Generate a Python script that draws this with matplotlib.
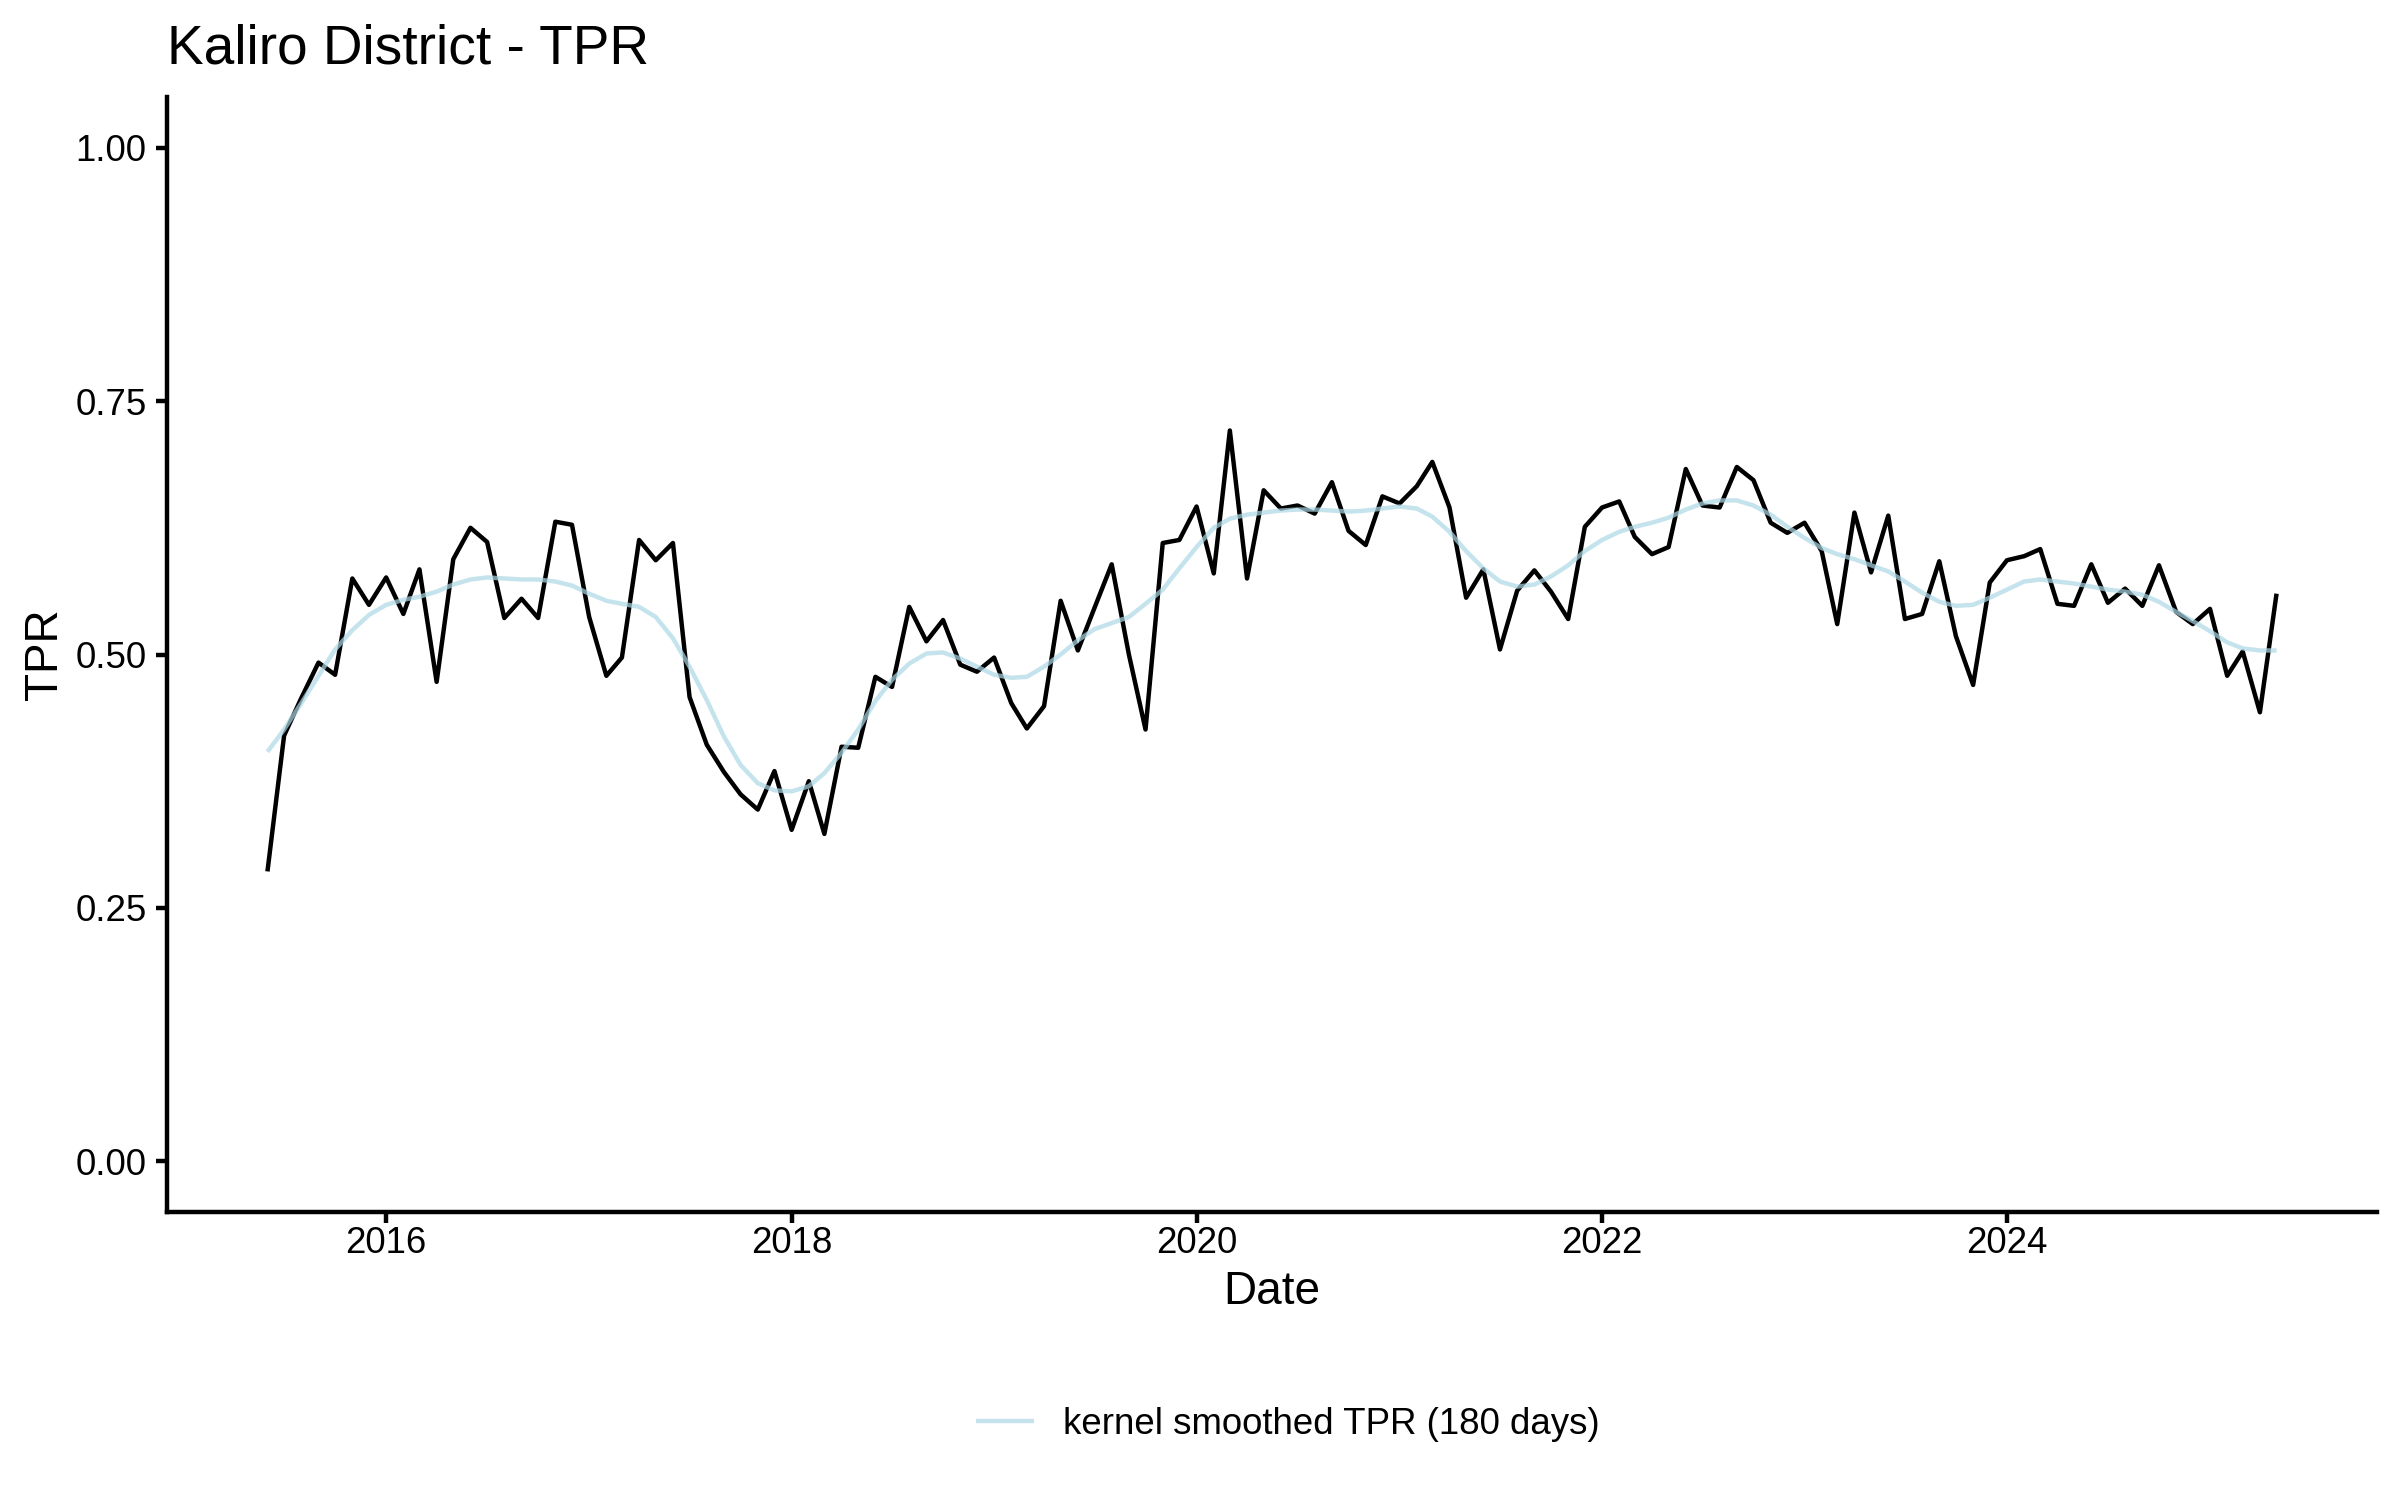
import matplotlib
matplotlib.use("Agg")
import matplotlib.pyplot as plt
import matplotlib.dates as mdates
import pandas as pd

plt.rcParams['font.family'] = ['Liberation Sans', 'DejaVu Sans']

# ---- data (monthly) ----
start_month = "2015-06-01"

tpr = [0.286, 0.420, 0.457, 0.492, 0.480, 0.575, 0.549, 0.576, 0.540, 0.584,
       0.473, 0.594, 0.625, 0.611, 0.536, 0.555, 0.536, 0.631, 0.628, 0.537,
       0.479, 0.497, 0.613, 0.593, 0.610, 0.458, 0.411, 0.384, 0.362, 0.347,
       0.385, 0.327, 0.375, 0.323, 0.409, 0.408, 0.478, 0.468, 0.547, 0.513,
       0.534, 0.490, 0.483, 0.497, 0.452, 0.427, 0.449, 0.553, 0.504, 0.546,
       0.589, 0.500, 0.426, 0.610, 0.613, 0.646, 0.580, 0.721, 0.575, 0.662,
       0.644, 0.647, 0.639, 0.670, 0.622, 0.608, 0.656, 0.649, 0.666, 0.690,
       0.645, 0.556, 0.584, 0.505, 0.563, 0.583, 0.562, 0.535, 0.626, 0.645,
       0.651, 0.616, 0.599, 0.606, 0.683, 0.647, 0.645, 0.685, 0.672, 0.630,
       0.620, 0.630, 0.602, 0.530, 0.640, 0.581, 0.637, 0.535, 0.540, 0.592,
       0.518, 0.470, 0.571, 0.593, 0.597, 0.604, 0.550, 0.548, 0.589, 0.551,
       0.565, 0.548, 0.588, 0.542, 0.530, 0.545, 0.479, 0.503, 0.443, 0.560]

tpr_smooth = [0.404, 0.426, 0.452, 0.479, 0.505, 0.524, 0.539, 0.549, 0.554, 0.557,
              0.562, 0.569, 0.574, 0.576, 0.575, 0.574, 0.574, 0.572, 0.568, 0.560,
              0.553, 0.550, 0.547, 0.537, 0.516, 0.488, 0.455, 0.419, 0.391, 0.373,
              0.366, 0.365, 0.370, 0.383, 0.403, 0.426, 0.454, 0.475, 0.491, 0.501,
              0.502, 0.496, 0.488, 0.480, 0.477, 0.478, 0.488, 0.500, 0.514, 0.525,
              0.531, 0.537, 0.550, 0.564, 0.585, 0.606, 0.625, 0.634, 0.638, 0.640,
              0.642, 0.643, 0.643, 0.642, 0.641, 0.642, 0.644, 0.646, 0.644, 0.636,
              0.621, 0.602, 0.585, 0.572, 0.567, 0.569, 0.577, 0.588, 0.602, 0.613,
              0.621, 0.626, 0.630, 0.635, 0.643, 0.649, 0.652, 0.652, 0.647, 0.638,
              0.626, 0.615, 0.605, 0.599, 0.594, 0.588, 0.582, 0.572, 0.561, 0.552,
              0.548, 0.549, 0.556, 0.564, 0.572, 0.574, 0.572, 0.570, 0.567, 0.564,
              0.562, 0.559, 0.552, 0.542, 0.533, 0.523, 0.512, 0.506, 0.504, 0.504]

y_ticks = [0.00, 0.25, 0.50, 0.75, 1.00]
y_tick_labels = ["0.00", "0.25", "0.50", "0.75", "1.00"]

title = "Kaliro District - TPR"
x_label = "Date"
y_label = "TPR"
smooth_label = "kernel smoothed TPR (180 days)"

dates = pd.date_range(start_month, periods=len(tpr), freq="MS")

# ---- figure ----
W, H = 2400, 1500
fig = plt.figure(figsize=(12, 7.5), dpi=200)
ax_l, ax_r, ax_t, ax_b = 167, 2377, 97, 1212
ax = fig.add_axes([ax_l / W, 1 - ax_b / H, (ax_r - ax_l) / W, (ax_b - ax_t) / H])

lw = 1.6
ax.plot(dates, tpr, color="black", lw=lw, solid_joinstyle="round", solid_capstyle="butt")
ax.plot(dates, tpr_smooth, color="lightblue", alpha=0.7, lw=lw,
        solid_joinstyle="round", solid_capstyle="butt", label=smooth_label)

span = dates[-1] - dates[0]
ax.set_xlim(dates[0] - 0.05 * span, dates[-1] + 0.05 * span)
ax.set_ylim(-0.05, 1.05)

ax.set_yticks(y_ticks)
ax.set_yticklabels(y_tick_labels)
ax.xaxis.set_major_locator(mdates.YearLocator(2))
ax.xaxis.set_major_formatter(mdates.DateFormatter("%Y"))

for s in ["top", "right"]:
    ax.spines[s].set_visible(False)
for s in ["left", "bottom"]:
    ax.spines[s].set_linewidth(lw)
    ax.spines[s].set_color("black")

ax.tick_params(axis="both", length=4.1, width=lw, color="black",
               labelsize=13.2, labelcolor="black")
ax.tick_params(axis="x", pad=0.8)
ax.tick_params(axis="y", pad=3.3)

ax.set_xlabel(x_label, fontsize=16.5, color="black")
ax.xaxis.set_label_coords(0.5, (ax_b - 1304) / (ax_b - ax_t))
ax.xaxis.label.set_va("baseline")

ax.set_ylabel(y_label, fontsize=16.5, color="black")
ax.yaxis.set_label_coords((44.5 - ax_l) / (ax_r - ax_l), 0.5)
ax.yaxis.label.set_va("center")

fig.text(ax_l / W, 1 - 63 / H, title, fontsize=19.8, ha="left", va="baseline", color="black")

handles, labels = ax.get_legend_handles_labels()
fig.legend(handles, labels, loc="center", bbox_to_anchor=(0.5365, 1 - 1424.7 / H),
           frameon=False, fontsize=13.2, handlelength=1.58, handletextpad=0.8,
           borderpad=0, borderaxespad=0)

fig.savefig("out.png", dpi=200)
